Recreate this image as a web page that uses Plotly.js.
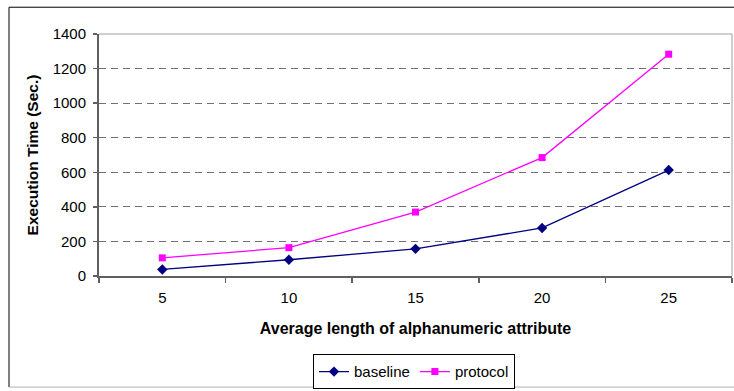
<!DOCTYPE html>
<html>
<head>
<meta charset="utf-8">
<script src="https://cdn.plot.ly/plotly-3.0.1.min.js"></script>
<style>html,body{margin:0;padding:0;background:#fff;}#chart{width:734px;height:391px;}</style>
</head>
<body>
<div id="chart"></div>
<script>
const categories = ["5", "10", "15", "20", "25"];
const baseline = [38, 94, 157, 278, 613];
const protocol = [105, 164, 370, 685, 1283];
const yTicks = [0, 200, 400, 600, 800, 1000, 1200, 1400];

const FONT = "Arial, 'Liberation Sans', sans-serif";

const traces = [
  {
    x: categories, y: baseline, name: "baseline", type: "scatter", mode: "lines+markers",
    line: {color: "#000080", width: 1.3},
    marker: {symbol: "diamond", size: 8, color: "#000080"}
  },
  {
    x: categories, y: protocol, name: "protocol", type: "scatter", mode: "lines+markers",
    line: {color: "#FF00FF", width: 1.3},
    marker: {symbol: "square", size: 7, color: "#FF00FF"}
  }
];

const L = 99, R = 732, T = 34, B = 278;
const px = v => (v - L) / (R - L);
const py = v => (B - v) / (B - T);

const layout = {
  width: 734, height: 391,
  margin: {l: L, r: 734 - R, t: T, b: 391 - B},
  paper_bgcolor: "#fff", plot_bgcolor: "#fff",
  font: {family: FONT, size: 15, color: "#000"},
  showlegend: true,
  legend: {
    orientation: "h", x: px(313), y: py(357), xanchor: "left", yanchor: "top",
    bordercolor: "#000", borderwidth: 1, font: {family: FONT, size: 15},
    tracegroupgap: 0
  },
  xaxis: {
    type: "category", range: [-0.5, 4.5],
    tickson: "boundaries", ticks: "outside", ticklen: 5, tickcolor: "#606060", tickwidth: 1.5,
    showline: true, linecolor: "#606060", linewidth: 2, showgrid: false, zeroline: false,
    tickfont: {family: FONT, size: 15}, ticklabelstandoff: 7,
    title: {text: "<b>Average length of alphanumeric attribute</b>", font: {family: FONT, size: 16}, standoff: 18}
  },
  yaxis: {
    range: [0, 1400], tickvals: yTicks, ticktext: yTicks.map(String),
    ticks: "outside", ticklen: 4, tickcolor: "#606060", tickwidth: 1.5,
    showline: true, linecolor: "#606060", linewidth: 2, zeroline: false,
    showgrid: true, gridcolor: "#707070", gridwidth: 1, griddash: "7px,5px",
    tickfont: {family: FONT, size: 15}, ticklabelstandoff: 4,
    title: {text: "<b>Execution Time (Sec.)</b>", font: {family: FONT, size: 15.5}, standoff: 10}
  },
  shapes: [
    {type: "line", xref: "paper", yref: "paper", x0: 0, x1: 1, y0: 1, y1: 1, line: {color: "#a0a0a0", width: 1}, layer: "below"},
    {type: "line", xref: "paper", yref: "paper", x0: 1, x1: 1, y0: 0, y1: 1, line: {color: "#a0a0a0", width: 1}},
    {type: "line", xref: "paper", yref: "paper", x0: px(9), x1: px(740), y0: py(7), y1: py(7), line: {color: "#000", width: 1}},
    {type: "line", xref: "paper", yref: "paper", x0: px(9), x1: px(9), y0: py(7), y1: py(390), line: {color: "#000", width: 1}},
    {type: "line", xref: "paper", yref: "paper", x0: px(9), x1: px(740), y0: py(390), y1: py(390), line: {color: "#b0b0b0", width: 1}}
  ]
};

Plotly.newPlot("chart", traces, layout, {displayModeBar: false, staticPlot: true});
</script>
</body>
</html>
